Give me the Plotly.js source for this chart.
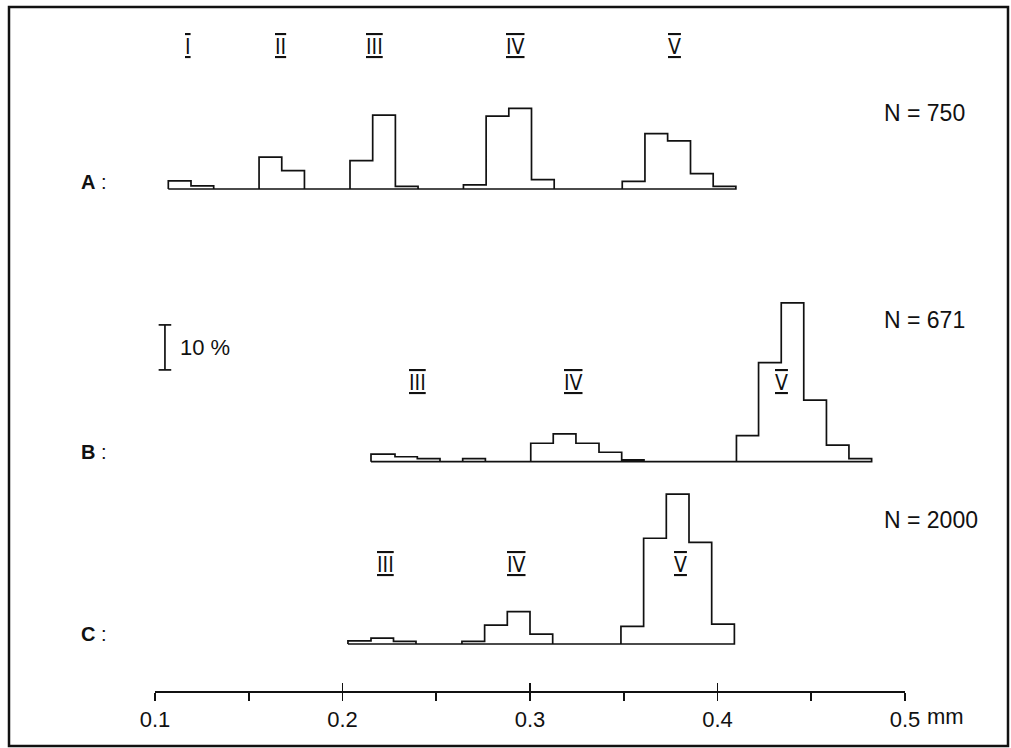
<!DOCTYPE html>
<html>
<head>
<meta charset="utf-8">
<script src="https://cdn.plot.ly/plotly-3.0.1.min.js"></script>
<style>
  html, body { margin: 0; padding: 0; background: #fff; }
  #chart { width: 1011px; height: 748px; }
</style>
</head>
<body>
<div id="chart"></div>
<script>
// ---------- data (bin edges in mm, frequencies in %) ----------
const edgesA = [0.1071, 0.1192, 0.1313, 0.1555, 0.1676, 0.1797, 0.2040, 0.2161, 0.2282, 0.2403,
                0.2645, 0.2766, 0.2887, 0.3008, 0.3129, 0.3492, 0.3613, 0.3734, 0.3856, 0.3977, 0.4098];
const pctA   = [1.8, 0.7, 0, 7.1, 4.1, 0, 6.3, 16.4, 0.6, 0,
                0.9, 16.2, 17.9, 2.1, 0, 1.7, 12.3, 10.7, 3.4, 0.6];

const edgesB = [0.2152, 0.2280, 0.2399, 0.2520, 0.2641, 0.2762, 0.3004, 0.3124, 0.3245, 0.3368,
                0.3489, 0.3608, 0.4101, 0.4219, 0.4340, 0.4460, 0.4581, 0.4701, 0.4822];
const pctB   = [1.7, 1.1, 0.7, 0, 0.7, 0, 4.1, 6.2, 4.1, 2.1, 0.4, 0, 5.8, 22.0, 35.3, 13.7, 3.7, 0.7];

const edgesC = [0.2029, 0.2152, 0.2272, 0.2392, 0.2637, 0.2758, 0.2879, 0.3000, 0.3121,
                0.3485, 0.3606, 0.3727, 0.3848, 0.3969, 0.4090];
const pctC   = [0.7, 1.3, 0.6, 0, 0.6, 4.2, 7.2, 2.2, 0, 3.9, 23.5, 33.3, 22.6, 4.4];

const panelNames = ['A', 'B', 'C'];
const sampleSizes = [750, 671, 2000];
const xTickVals = [0.1, 0.2, 0.3, 0.4, 0.5];
const xTickText = ['0.1', '0.2', '0.3', '0.4', '0.5'];
const scaleBarPct = 10;
const scaleBarBasePct = 20.4;   // bottom of the 10 % bar, in panel B units
const scaleBarX = 0.1053;       // mm

// Roman-numeral year-class labels: [mm position, label]
const romanA = [[0.1177, 'I'], [0.1670, 'II'], [0.2170, 'III'], [0.2920, 'IV'], [0.3770, 'V']];
const romanB = [[0.2400, 'III'], [0.3230, 'IV'], [0.4340, 'V']];
const romanC = [[0.2227, 'III'], [0.2927, 'IV'], [0.3800, 'V']];

// ---------- geometry ----------
const W = 1011, H = 748;
const L = 155, R = 905, T = 20, B = 691;
const PX_PER_PCT = 4.5;
const PH = B - T, PW = R - L;
const py = y => (B - y) / PH;          // page px -> paper y
const pxp = x => (x - L) / PW;         // page px -> paper x

function yPanel(basePx, topPx, botPx) {
  return {
    domain: [py(botPx), py(topPx)],
    range: [-(botPx - basePx) / PX_PER_PCT, (basePx - topPx) / PX_PER_PCT],
    visible: false, fixedrange: true
  };
}

function stepTrace(edges, vals, xaxis, yaxis) {
  const n = vals.length;
  const x = [edges[0]], y = [0];
  for (let i = 0; i < n; i++) { x.push(edges[i]); y.push(vals[i]); }
  x.push(edges[n], edges[n], edges[0]);
  y.push(vals[n - 1], 0, 0);
  return {
    type: 'scatter', mode: 'lines', x: x, y: y, xaxis: xaxis, yaxis: yaxis,
    line: { shape: 'hv', color: '#111', width: 1.7 }, hoverinfo: 'skip', showlegend: false
  };
}

const traces = [
  stepTrace(edgesA, pctA, 'x', 'y'),
  stepTrace(edgesB, pctB, 'x', 'y2'),
  stepTrace(edgesC, pctC, 'x2', 'y3'),
  {
    type: 'scatter', mode: 'lines+markers', xaxis: 'x', yaxis: 'y2',
    x: [scaleBarX, scaleBarX], y: [scaleBarBasePct, scaleBarBasePct + scaleBarPct],
    line: { color: '#111', width: 1.7 },
    marker: { symbol: 'line-ew', size: 9, color: '#111', line: { width: 1.7, color: '#111' } },
    hoverinfo: 'skip', showlegend: false
  }
];

const FONT = '"Liberation Sans", Arial, sans-serif';
const ROMAN_FONT = '"DejaVu Sans Condensed", "DejaVu Sans", sans-serif';

const annotations = [];
function roman(list, yPx) {
  list.forEach(([x, t]) => annotations.push({
    xref: 'x', yref: 'paper', x: x, y: py(yPx),
    text: '<span style="text-decoration:underline overline">' + t + '</span>', showarrow: false,
    xanchor: 'center', yanchor: 'middle', font: { family: ROMAN_FONT, size: 21, color: '#111' }
  }));
}
roman(romanA, 47);
roman(romanB, 383);
roman(romanC, 565);

const labelY = [182, 452, 634];
const nY = [113, 320, 520];
panelNames.forEach((p, i) => {
  annotations.push({
    xref: 'paper', yref: 'paper', x: pxp(94), y: py(labelY[i]), text: '<b>' + p + '</b> :',
    showarrow: false, xanchor: 'center', yanchor: 'middle',
    font: { family: FONT, size: 20, color: '#111' }
  });
  annotations.push({
    xref: 'paper', yref: 'paper', x: pxp(882), y: py(nY[i]), text: 'N = ' + sampleSizes[i],
    showarrow: false, xanchor: 'left', yanchor: 'middle',
    font: { family: FONT, size: 23, color: '#111' }
  });
});
annotations.push({
  xref: 'paper', yref: 'paper', x: pxp(178), y: py(347), text: scaleBarPct + ' %',
  showarrow: false, xanchor: 'left', yanchor: 'middle',
  font: { family: FONT, size: 22, color: '#111' }
});
annotations.push({
  xref: 'paper', yref: 'paper', x: pxp(925), y: py(716), text: 'mm',
  showarrow: false, xanchor: 'left', yanchor: 'middle',
  font: { family: FONT, size: 22, color: '#111' }
});

const layout = {
  width: W, height: H,
  margin: { l: L, r: W - R, t: T, b: H - B, pad: 0 },
  paper_bgcolor: '#fff', plot_bgcolor: 'rgba(0,0,0,0)',
  showlegend: false,
  xaxis: {
    range: [0.1, 0.5], anchor: 'y3', fixedrange: true,
    showgrid: false, zeroline: false,
    showline: true, linecolor: '#111', linewidth: 2,
    ticks: 'outside', ticklen: 8, tickwidth: 1.7, tickcolor: '#111',
    tickvals: xTickVals, ticktext: xTickText,
    tickfont: { family: FONT, size: 22, color: '#111' },
    minor: { ticks: 'outside', ticklen: 8, tickwidth: 1.7, tickcolor: '#111', dtick: 0.05, tick0: 0.1 }
  },
  xaxis2: {
    range: [0.1, 0.5], matches: 'x', anchor: 'y3', fixedrange: true,
    showgrid: false, zeroline: false, showline: false,
    ticks: 'inside', ticklen: 8, tickwidth: 1.7, tickcolor: '#111',
    tickvals: xTickVals, showticklabels: false
  },
  yaxis: yPanel(189, 30, 195),
  yaxis2: yPanel(461.7, 260, 468),
  yaxis3: yPanel(644, 470, B),
  annotations: annotations,
  shapes: [{
    type: 'rect', xref: 'paper', yref: 'paper',
    x0: pxp(9), x1: pxp(1008), y0: py(746), y1: py(7),
    line: { color: '#111', width: 2.5 }, fillcolor: 'rgba(0,0,0,0)', layer: 'below'
  }]
};

Plotly.newPlot('chart', traces, layout, { staticPlot: true, displayModeBar: false });
</script>
</body>
</html>
